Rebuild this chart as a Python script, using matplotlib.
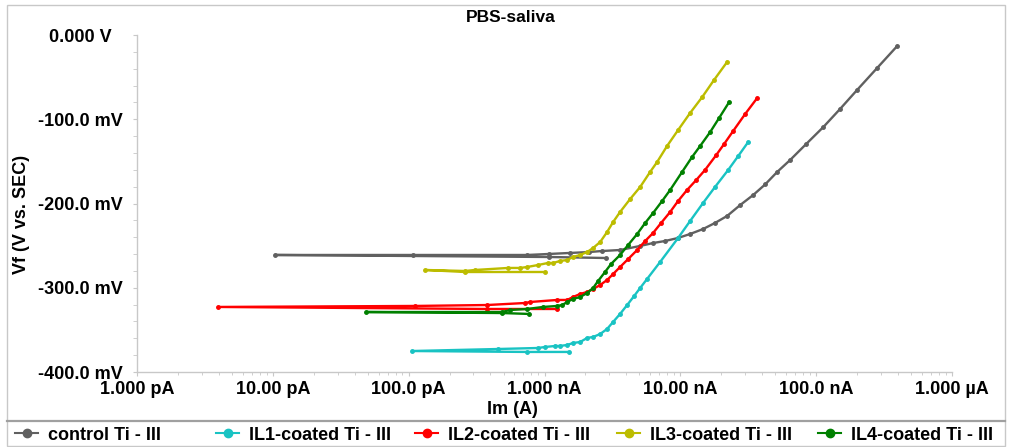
import matplotlib
matplotlib.use("Agg")
import matplotlib.pyplot as plt
from matplotlib.lines import Line2D
from matplotlib.patches import Rectangle
from matplotlib.ticker import FixedLocator, FixedFormatter, LogLocator, MultipleLocator, NullFormatter

plt.rcParams['font.family'] = ['Liberation Sans', 'DejaVu Sans']
plt.rcParams['font.weight'] = 'bold'

# ---------------- data ----------------
title = "PBS-saliva"
series_names = ["control Ti - III", "IL1-coated Ti - III", "IL2-coated Ti - III",
                "IL3-coated Ti - III", "IL4-coated Ti - III"]
series_colors = ["#606060", "#19c3c3", "#ff0000", "#bcbc00", "#008000"]

ctrl_I = [2.84e-9, 1.08e-9, 1.04e-11, 1.08e-10, 7.44e-10, 1.08e-9, 1.54e-9, 2.13e-9, 2.65e-9,
          3.60e-9, 5.06e-9, 6.30e-9, 7.73e-9, 9.63e-9, 1.18e-8, 1.47e-8, 1.80e-8, 2.21e-8,
          2.76e-8, 3.44e-8, 4.21e-8, 5.16e-8, 6.43e-8, 8.44e-8, 1.13e-7, 1.50e-7, 2.00e-7,
          2.81e-7, 3.95e-7]
ctrl_V = [-0.2647, -0.2635, -0.2611, -0.2611, -0.2611, -0.2599, -0.2587, -0.2576, -0.2564,
          -0.2552, -0.2504, -0.2469, -0.2445, -0.2409, -0.2362, -0.2303, -0.2231, -0.2148,
          -0.2018, -0.1899, -0.1774, -0.1626, -0.1484, -0.1294, -0.1092, -0.0878, -0.0653,
          -0.0392, -0.0131]

il1_I = [1.52e-9, 7.44e-10, 1.06e-10, 4.55e-10, 8.97e-10, 1.01e-9, 1.20e-9, 1.30e-9, 1.47e-9,
         1.62e-9, 1.83e-9, 2.06e-9, 2.28e-9, 2.57e-9, 2.89e-9, 3.20e-9, 3.60e-9, 4.06e-9,
         4.57e-9, 5.06e-9, 5.69e-9, 7.10e-9, 9.63e-9, 1.18e-8, 1.47e-8, 1.80e-8, 2.25e-8,
         2.67e-8, 3.16e-8]
il1_V = [-0.3762, -0.3762, -0.3751, -0.3727, -0.3715, -0.3703, -0.3691, -0.3691, -0.3679,
         -0.3656, -0.3644, -0.3596, -0.3584, -0.3549, -0.3489, -0.3406, -0.3311, -0.3205,
         -0.3098, -0.3003, -0.2896, -0.2694, -0.2409, -0.2208, -0.1994, -0.1804, -0.1602,
         -0.1436, -0.1270]

il2_I = [1.24e-9, 3.78e-10, 3.95e-12, 1.12e-10, 3.78e-10, 7.20e-10, 7.83e-10, 1.24e-9, 1.47e-9,
         1.62e-9, 1.83e-9, 2.06e-9, 2.28e-9, 2.57e-9, 2.89e-9, 3.20e-9, 3.60e-9, 4.13e-9,
         4.81e-9, 5.51e-9, 6.30e-9, 7.22e-9, 8.41e-9, 9.63e-9, 1.12e-8, 1.31e-8, 1.52e-8,
         1.84e-8, 2.10e-8, 2.45e-8, 3.00e-8, 3.68e-8]
il2_V = [-0.3252, -0.3252, -0.3228, -0.3216, -0.3205, -0.3181, -0.3169, -0.3145, -0.3145,
         -0.3110, -0.3074, -0.3050, -0.3015, -0.2967, -0.2908, -0.2837, -0.2754, -0.2659,
         -0.2552, -0.2445, -0.2350, -0.2231, -0.2101, -0.1970, -0.1840, -0.1721, -0.1602,
         -0.1424, -0.1294, -0.1139, -0.0938, -0.0748]

il3_I = [1.01e-9, 2.60e-10, 1.32e-10, 2.60e-10, 3.08e-10, 5.40e-10, 6.61e-10, 7.44e-10, 8.97e-10,
         1.06e-9, 1.16e-9, 1.30e-9, 1.47e-9, 1.62e-9, 1.83e-9, 2.06e-9, 2.28e-9, 2.57e-9,
         2.89e-9, 3.20e-9, 3.60e-9, 4.27e-9, 5.06e-9, 5.99e-9, 6.75e-9, 7.99e-9, 9.63e-9,
         1.18e-8, 1.45e-8, 1.77e-8, 2.21e-8]
il3_V = [-0.2813, -0.2813, -0.2789, -0.2801, -0.2789, -0.2765, -0.2765, -0.2754, -0.2730,
         -0.2706, -0.2706, -0.2682, -0.2671, -0.2635, -0.2611, -0.2576, -0.2528, -0.2457,
         -0.2338, -0.2220, -0.2101, -0.1947, -0.1804, -0.1626, -0.1507, -0.1317, -0.1128,
         -0.0926, -0.0736, -0.0534, -0.0320]

il4_I = [7.70e-10, 4.87e-10, 4.86e-11, 4.87e-10, 5.58e-10, 7.44e-10, 9.76e-10, 1.24e-9, 1.35e-9,
         1.47e-9, 1.62e-9, 1.83e-9, 2.06e-9, 2.28e-9, 2.48e-9, 2.79e-9, 3.09e-9, 3.60e-9,
         4.13e-9, 4.81e-9, 5.51e-9, 6.30e-9, 7.35e-9, 8.41e-9, 1.03e-8, 1.22e-8, 1.40e-8,
         1.66e-8, 1.93e-8, 2.29e-8]
il4_V = [-0.3311, -0.3300, -0.3288, -0.3288, -0.3264, -0.3252, -0.3228, -0.3216, -0.3205,
         -0.3169, -0.3133, -0.3110, -0.3062, -0.3003, -0.2920, -0.2813, -0.2718, -0.2611,
         -0.2492, -0.2362, -0.2231, -0.2113, -0.1970, -0.1840, -0.1626, -0.1448, -0.1317,
         -0.1151, -0.0985, -0.0795]

x_tick_values = [1e-12, 1e-11, 1e-10, 1e-9, 1e-8, 1e-7, 1e-6]
x_tick_labels = ["1.000 pA", "10.00 pA", "100.0 pA", "1.000 nA", "10.00 nA", "100.0 nA", "1.000 µA"]
y_tick_values = [0.0, -0.1, -0.2, -0.3, -0.4]
y_tick_labels = ["0.000 V", "-100.0 mV", "-200.0 mV", "-300.0 mV", "-400.0 mV"]
x_label = "Im (A)"
y_label = "Vf (V vs. SEC)"

# ---------------- figure ----------------
W, H = 1013, 447
fig = plt.figure(figsize=(W / 100, H / 100), dpi=100)
ax = fig.add_axes([137 / W, 1 - 372 / H, (952 - 137) / W, (372 - 35) / H])

all_I = [ctrl_I, il1_I, il2_I, il3_I, il4_I]
all_V = [ctrl_V, il1_V, il2_V, il3_V, il4_V]
for I, V, c in zip(all_I, all_V, series_colors):
    ax.plot(I, V, color=c, lw=1.7, marker='o', ms=2.5, mec=c, mfc=c)

ax.set_xscale('log')
ax.set_xlim(1e-12, 1e-6)
ax.set_ylim(-0.4, 0.0)

ax.xaxis.set_major_locator(FixedLocator(x_tick_values))
ax.xaxis.set_major_formatter(FixedFormatter(x_tick_labels))
ax.xaxis.set_minor_locator(LogLocator(base=10, subs=range(2, 10), numticks=20))
ax.xaxis.set_minor_formatter(NullFormatter())
ax.yaxis.set_major_locator(FixedLocator(y_tick_values))
ax.yaxis.set_major_formatter(FixedFormatter(y_tick_labels))
ax.yaxis.set_minor_locator(MultipleLocator(0.02))

for s in ['top', 'right']:
    ax.spines[s].set_visible(False)
for s in ['left', 'bottom']:
    ax.spines[s].set_color('#c8c8c8')
    ax.spines[s].set_linewidth(1.0)

ax.tick_params(axis='both', which='both', color='#c8c8c8', direction='out')
ax.tick_params(axis='x', which='major', length=3, pad=3.5, labelsize=13)
ax.tick_params(axis='x', which='minor', length=2.5)
ax.tick_params(axis='y', which='major', length=3, pad=38, labelsize=13)
ax.tick_params(axis='y', which='minor', length=3)
for lab in ax.get_xticklabels() + ax.get_yticklabels():
    lab.set_fontweight('bold')
for lab in ax.get_yticklabels():
    lab.set_horizontalalignment('center')

fig.text(511 / W, 1 - 18 / H, title, ha='center', va='center', fontsize=12.5, fontweight='bold')
fig.text(512 / W, 1 - 409 / H, x_label, ha='center', va='center', fontsize=13, fontweight='bold')
fig.text(22 / W, 1 - 214 / H, y_label, ha='center', va='center', rotation=90,
         fontsize=13, fontweight='bold')

# border and legend separator
fig.patches.append(Rectangle((7 / W, 1 / H), (1005 - 7) / W, (442 - 1) / H,
                             transform=fig.transFigure, fill=False,
                             edgecolor='#c8c8c8', lw=1.0))
fig.lines.append(Line2D([7 / W, 1005 / W], [1 - 421 / H, 1 - 421 / H],
                        transform=fig.transFigure, color='#a0a0a0', lw=1.6))

legend_x = [15, 216, 415, 617, 818]
for name, c, lx in zip(series_names, series_colors, legend_x):
    h = Line2D([], [], color=c, lw=1.5, marker='o', ms=6, mec=c, mfc=c)
    fig.legend([h], [name], loc='center left', bbox_to_anchor=(lx / W, 1 - 435 / H),
               frameon=False, borderaxespad=0, borderpad=0, handlelength=1.3,
               handletextpad=0.55, prop={'weight': 'bold', 'size': 13})

fig.savefig('out.png', dpi=100, facecolor='white')
